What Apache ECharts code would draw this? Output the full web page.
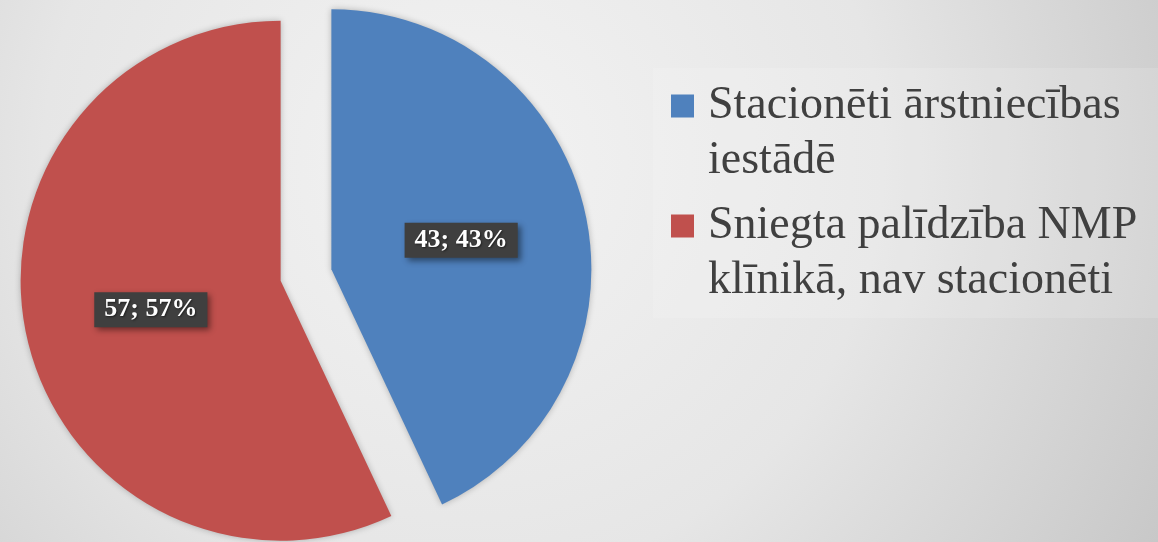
<!DOCTYPE html>
<html>
<head>
<meta charset="utf-8">
<script src="https://cdn.jsdelivr.net/npm/echarts@6/dist/echarts.min.js"></script>
<style>
html,body{margin:0;padding:0;}
#c{width:1158px;height:542px;}
</style>
</head>
<body>
<div id="c"></div>
<script>
var categories = ['Stacionēti ārstniecības\niestādē', 'Sniegta palīdzība NMP\nklīnikā, nav stacionēti'];
var values = [43, 57];
var colors = ['#4f81bd', '#c0504d'];

var chart = echarts.init(document.getElementById('c'), null, {renderer: 'canvas'});
var data = categories.map(function (n, i) {
  return {name: n, value: values[i], selected: true, itemStyle: {color: colors[i]}};
});
var serif = "'Liberation Serif', 'Times New Roman', serif";
chart.setOption({
  animation: false,
  backgroundColor: {
    type: 'radial', x: 0.4, y: 0.3, r: 1.55,
    colorStops: [
      {offset: 0, color: '#f3f3f3'},
      {offset: 0.5, color: '#e6e6e6'},
      {offset: 1, color: '#c4c4c4'}
    ]
  },
  graphic: [{
    type: 'rect', z: -1, silent: true,
    shape: {x: 653, y: 68, width: 510, height: 250},
    style: {fill: 'rgba(255,255,255,0.14)'}
  }],
  legend: {
    orient: 'vertical',
    left: 671,
    top: 23.5,
    padding: 0,
    itemGap: -45,
    itemWidth: 23,
    itemHeight: 23,
    icon: 'rect',
    selectedMode: false,
    data: categories,
    formatter: function (name) { return '\n' + name; },
    textStyle: {
      fontFamily: serif,
      fontSize: 46,
      lineHeight: 55,
      color: '#404040',
      padding: [0, 0, 0, 9]
    }
  },
  series: [{
    type: 'pie',
    center: [306, 275],
    radius: [0, 260],
    startAngle: 90,
    clockwise: true,
    selectedMode: 'multiple',
    selectedOffset: 26,
    avoidLabelOverlap: false,
    emphasis: {disabled: true},
    select: {itemStyle: {borderWidth: 0, shadowBlur: 6, shadowColor: 'rgba(0,0,0,0.25)'}},
    itemStyle: {shadowBlur: 6, shadowColor: 'rgba(0,0,0,0.25)'},
    label: {
      show: true,
      position: 'inside',
      formatter: '{c}; {d}%',
      fontFamily: serif,
      fontWeight: 'bold',
      fontSize: 26,
      color: '#ffffff',
      backgroundColor: '#3f3f3f',
      padding: [5, 10, 4, 10],
      shadowColor: 'rgba(0,0,0,0.45)',
      shadowBlur: 6,
      shadowOffsetX: 3,
      shadowOffsetY: 3,
      textShadowColor: 'rgba(0,0,0,0.5)',
      textShadowBlur: 2,
      textShadowOffsetX: 1,
      textShadowOffsetY: 1
    },
    labelLine: {show: false},
    data: data
  }]
});
</script>
</body>
</html>
